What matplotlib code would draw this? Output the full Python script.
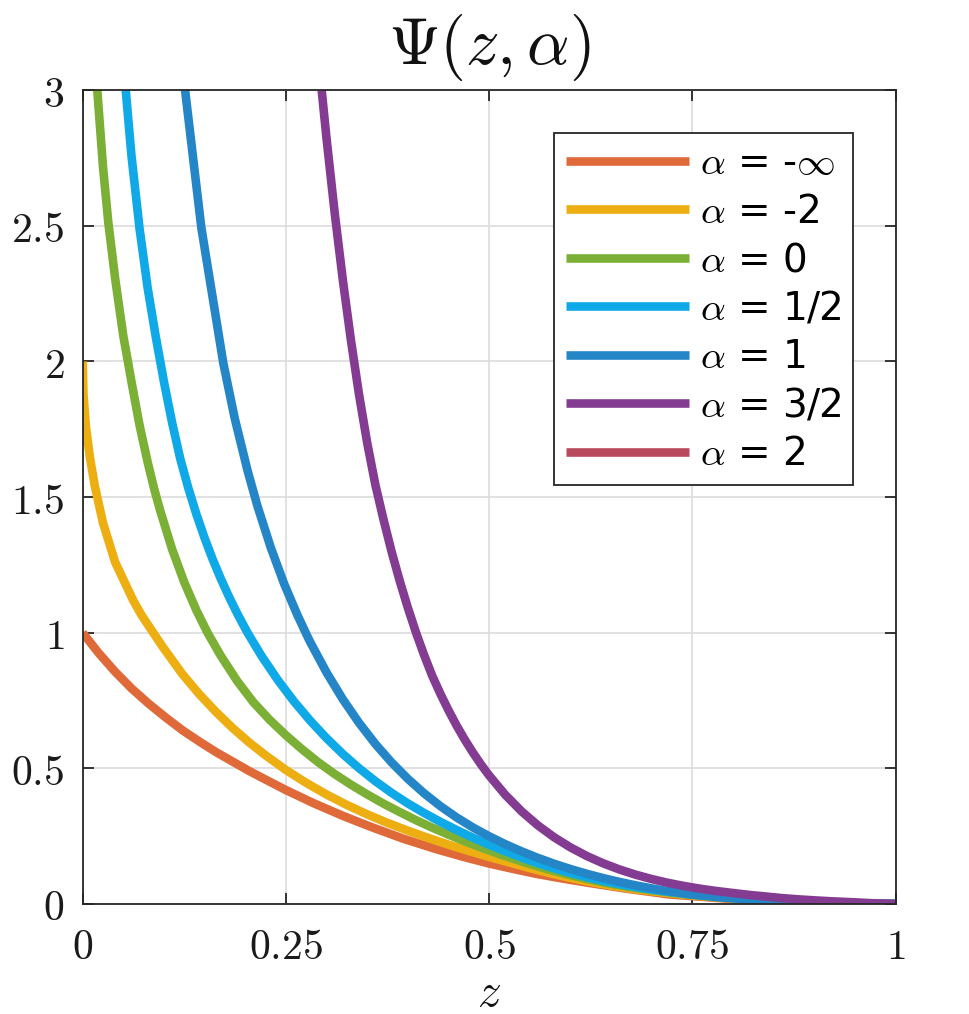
import matplotlib
matplotlib.use("Agg")
import matplotlib.pyplot as plt
from matplotlib.ticker import FixedLocator, FixedFormatter

plt.rcParams['mathtext.fontset'] = 'cm'
plt.rcParams['font.family'] = ['DejaVu Sans']

# ---- data read (estimated) from the reference picture ----
labels = [r'$\alpha$ = -$\infty$', r'$\alpha$ = -2', r'$\alpha$ = 0', r'$\alpha$ = 1/2',
          r'$\alpha$ = 1', r'$\alpha$ = 3/2', r'$\alpha$ = 2']
colors = ['#E0693A', '#EDAE12', '#7BAF35', '#10A9E7', '#2586C7', '#843C92', '#B94A5E']

z_minf = [0, 0.0197, 0.04, 0.06, 0.081, 0.102, 0.123, 0.144, 0.164, 0.185, 0.205, 0.228,
          0.25, 0.283, 0.32, 0.353, 0.394, 0.435, 0.468, 0.5, 0.53, 0.558, 0.59, 0.62,
          0.67, 0.722, 0.8, 0.9, 1.0]
p_minf = [1.0, 0.925, 0.856, 0.795, 0.739, 0.688, 0.640, 0.598, 0.560, 0.524, 0.490, 0.454,
          0.420, 0.373, 0.325, 0.286, 0.241, 0.202, 0.174, 0.149, 0.129, 0.111, 0.094, 0.079,
          0.056, 0.035, 0.018, 0.006, 0.0]

z_m2 = [0, 0.001, 0.004, 0.009, 0.015, 0.025, 0.04, 0.062, 0.073, 0.098, 0.1225, 0.143,
        0.164, 0.184, 0.205, 0.225, 0.25, 0.275, 0.3, 0.325, 0.35, 0.375, 0.4, 0.425, 0.45,
        0.475, 0.5, 0.525, 0.55, 0.575, 0.6, 0.625, 0.65, 0.675, 0.7, 0.73, 0.76, 0.8,
        0.85, 0.9, 0.95, 1.0]
p_m2 = [2.0, 1.88, 1.76, 1.645, 1.54, 1.405, 1.26, 1.12, 1.062, 0.95, 0.848, 0.775,
        0.708, 0.65, 0.595, 0.548, 0.494, 0.4465, 0.4035, 0.3651, 0.3304, 0.2989, 0.2701,
        0.2435, 0.2187, 0.1954, 0.1735, 0.1528, 0.1325, 0.1134, 0.0962, 0.081, 0.0678,
        0.0565, 0.0468, 0.0371, 0.029, 0.0204, 0.0126, 0.0065, 0.002, 0.0]

z_0 = [0.018, 0.025, 0.0315, 0.04, 0.05, 0.055, 0.06, 0.07, 0.08, 0.088, 0.095, 0.11,
       0.125, 0.14, 0.1536, 0.17, 0.19, 0.21, 0.23, 0.25, 0.27, 0.29, 0.31, 0.33, 0.35,
       0.37, 0.39, 0.41, 0.43, 0.45, 0.47, 0.49, 0.51, 0.53, 0.55, 0.57, 0.59, 0.61,
       0.63, 0.65, 0.67, 0.70, 0.73, 0.76, 0.80, 0.85, 0.90, 0.95, 1.0]
p_0 = [3.0, 2.718, 2.514, 2.305, 2.094, 2.011, 1.926, 1.765, 1.628, 1.530, 1.454, 1.308,
       1.186, 1.082, 1.0, 0.9145, 0.8225, 0.7435, 0.679, 0.622, 0.570, 0.522, 0.479, 0.440,
       0.404, 0.370, 0.339, 0.309, 0.2815, 0.2555, 0.2312, 0.2083, 0.1868, 0.1665, 0.1475,
       0.1299, 0.1138, 0.0991, 0.086, 0.0743, 0.0639, 0.0506, 0.0396, 0.0306, 0.0212,
       0.0128, 0.0065, 0.002, 0.0]

z_half = [0.053, 0.06, 0.07, 0.08, 0.09, 0.10, 0.11, 0.12, 0.13, 0.14, 0.15, 0.16, 0.17,
          0.18, 0.19, 0.2028, 0.22, 0.24, 0.26, 0.28, 0.30, 0.32, 0.34, 0.36, 0.38, 0.40,
          0.42, 0.44, 0.46, 0.48, 0.50, 0.52, 0.54, 0.56, 0.58, 0.60, 0.62, 0.64, 0.66,
          0.68, 0.70, 0.72, 0.75, 0.78, 0.81, 0.85, 0.90, 0.95, 1.0]
p_half = [3.0, 2.76, 2.4896, 2.27, 2.09, 1.925, 1.775, 1.642, 1.533, 1.436, 1.349, 1.270,
          1.1985, 1.1327, 1.0716, 1.0, 0.9145, 0.8258, 0.7465, 0.6754, 0.6112, 0.553, 0.5004,
          0.4528, 0.4097, 0.3707, 0.3354, 0.3029, 0.2727, 0.2445, 0.2184, 0.1941, 0.1715,
          0.1506, 0.1316, 0.1144, 0.099, 0.0854, 0.0734, 0.0628, 0.0535, 0.0453, 0.0349,
          0.0265, 0.0198, 0.013, 0.0065, 0.002, 0.0]

z_1 = [0.126, 0.146, 0.173, 0.187, 0.2028, 0.215, 0.2315, 0.248, 0.264, 0.2767, 0.28, 0.30,
       0.32, 0.34, 0.36, 0.38, 0.40, 0.42, 0.44, 0.46, 0.48, 0.50, 0.52, 0.54, 0.56, 0.58,
       0.60, 0.62, 0.64, 0.66, 0.68, 0.70, 0.72, 0.75, 0.78, 0.81, 0.85, 0.90, 0.95, 1.0]
p_1 = [3.0, 2.493, 1.994, 1.791, 1.598, 1.467, 1.313, 1.179, 1.066, 0.985, 0.965, 0.8535,
       0.7547, 0.6674, 0.5901, 0.5218, 0.4614, 0.408, 0.3608, 0.319, 0.2821, 0.2495, 0.2202,
       0.1937, 0.1698, 0.1482, 0.1288, 0.1113, 0.0956, 0.0815, 0.0688, 0.0574, 0.0475,
       0.0352, 0.0258, 0.0188, 0.0124, 0.006, 0.002, 0.0]

z_3h = [0.294, 0.30, 0.31, 0.32, 0.33, 0.34, 0.35, 0.36, 0.37, 0.38, 0.39, 0.40, 0.41,
        0.42, 0.43, 0.44, 0.45, 0.46, 0.47, 0.48, 0.49, 0.50, 0.52, 0.54, 0.56, 0.58,
        0.60, 0.62, 0.64, 0.66, 0.68, 0.70, 0.72, 0.74, 0.76, 0.78, 0.80, 0.82, 0.84,
        0.86, 0.88, 0.90, 0.92, 0.95, 0.97, 1.0]
p_3h = [3.0, 2.822, 2.548, 2.301, 2.078, 1.877, 1.700, 1.546, 1.418, 1.299, 1.191, 1.092,
        1.001, 0.9175, 0.841, 0.775, 0.714, 0.6576, 0.6059, 0.5582, 0.5142, 0.4737, 0.402,
        0.3412, 0.2896, 0.2458, 0.2086, 0.177, 0.1502, 0.1275, 0.1082, 0.0918, 0.0779,
        0.0661, 0.0561, 0.0476, 0.0404, 0.0334, 0.0276, 0.0217, 0.0171, 0.0134, 0.010,
        0.006, 0.003, 0.0]

z_2 = []   # alpha = 2 curve is not visible inside the plotted range
p_2 = []

xticks = [0, 0.25, 0.5, 0.75, 1]
xticklabels = ['$0$', '$0.25$', '$0.5$', '$0.75$', '$1$']
yticks = [0, 0.5, 1, 1.5, 2, 2.5, 3]
yticklabels = ['$0$', '$0.5$', '$1$', '$1.5$', '$2$', '$2.5$', '$3$']

series = [(z_minf, p_minf), (z_m2, p_m2), (z_0, p_0), (z_half, p_half),
          (z_1, p_1), (z_3h, p_3h), (z_2, p_2)]

# ---- figure ----
fig = plt.figure(figsize=(9.69, 10.14), dpi=100)
ax = fig.add_axes([0.0853, 0.1085, 0.839, 0.8025])

for (zz, pp), c, lab in zip(series, colors, labels):
    ax.plot(zz, pp, color=c, lw=6.2, label=lab, solid_capstyle='butt',
            solid_joinstyle='round')

ax.set_xlim(0, 1)
ax.set_ylim(0, 3)
ax.xaxis.set_major_locator(FixedLocator(xticks))
ax.xaxis.set_major_formatter(FixedFormatter(xticklabels))
ax.yaxis.set_major_locator(FixedLocator(yticks))
ax.yaxis.set_major_formatter(FixedFormatter(yticklabels))

spine_c = '#262626'
for s in ax.spines.values():
    s.set_color(spine_c)
    s.set_linewidth(1.3)
ax.tick_params(direction='in', length=8, width=1.3, colors=spine_c,
               top=True, right=True, labelsize=30)
ax.tick_params(axis='x', pad=16)
ax.tick_params(axis='y', pad=13)
for t in ax.get_xticklabels() + ax.get_yticklabels():
    t.set_color('#1a1a1a')
ax.grid(True, color='#dcdcdc', lw=1.2)
ax.set_axisbelow(True)

ax.set_title(r'$\Psi(z,\alpha)$', fontsize=48, pad=19, color='#111111')
ax.set_xlabel(r'$z$', fontsize=34, labelpad=2, color='#111111')

leg = ax.legend(loc='upper right', bbox_to_anchor=(0.9475, 0.948), borderaxespad=0,
                fontsize=28, handlelength=3.16, handletextpad=0.28, labelspacing=0.27,
                borderpad=0.3, fancybox=False, framealpha=1)
leg.get_frame().set_edgecolor(spine_c)
leg.get_frame().set_linewidth(1.3)

fig.savefig('out.png', dpi=100)
